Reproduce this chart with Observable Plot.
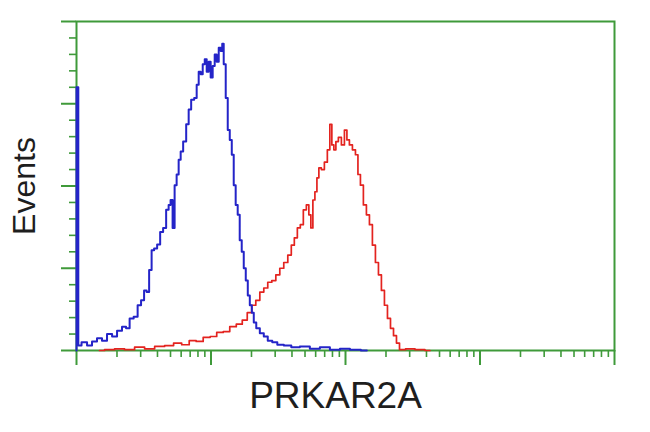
<!DOCTYPE html>
<html>
<head>
<meta charset="utf-8">
<script src="https://cdn.jsdelivr.net/npm/d3@7"></script>
<script src="https://cdn.jsdelivr.net/npm/@observablehq/plot@0.6"></script>
<style>
  html, body { margin: 0; padding: 0; background: #fff; }
  #chart svg { display: block; }
</style>
</head>
<body>
<div id="chart"></div>
<script>
// Blue (control) histogram: log10 intensity and event counts
const blueLog = [0, 0, 0.012, 0.015, 0.06, 0.097, 0.134, 0.171, 0.208, 0.246, 0.283, 0.32, 0.357, 0.38, 0.41, 0.44, 0.469, 0.491, 0.514, 0.529, 0.551, 0.566, 0.588, 0.611, 0.633, 0.655, 0.678, 0.692, 0.707, 0.722, 0.737, 0.752, 0.767, 0.782, 0.804, 0.827, 0.841, 0.864, 0.886, 0.901, 0.916, 0.931, 0.946, 0.961, 0.975, 0.99, 1.005, 1.02, 1.035, 1.05, 1.065, 1.08, 1.087, 1.102, 1.117, 1.132, 1.147, 1.162, 1.176, 1.191, 1.206, 1.221, 1.236, 1.251, 1.266, 1.281, 1.296, 1.311, 1.325, 1.348, 1.378, 1.407, 1.437, 1.474, 1.512, 1.571, 1.623, 1.698, 1.772, 1.847, 1.921, 1.996, 2.07, 2.159];
const blueCount = [0, 320, 320, 6, 10, 6, 11, 15, 12, 20, 17, 24, 29, 27, 39, 41, 55, 61, 73, 71, 98, 122, 124, 129, 144, 149, 171, 177, 183, 149, 201, 214, 232, 242, 254, 275, 293, 305, 307, 323, 339, 336, 348, 354, 339, 351, 332, 346, 360, 351, 368, 364, 373, 348, 307, 268, 256, 238, 201, 177, 165, 134, 120, 100, 85, 67, 55, 46, 34, 27, 21, 17, 12, 10, 7, 6, 4, 5, 2, 4, 1, 2, 1, 0];

// Red (PRKAR2A) histogram
const redLog = [0.171, 0.246, 0.32, 0.395, 0.469, 0.544, 0.618, 0.692, 0.752, 0.812, 0.864, 0.916, 0.968, 1.02, 1.065, 1.117, 1.162, 1.214, 1.251, 1.288, 1.318, 1.348, 1.378, 1.407, 1.437, 1.467, 1.497, 1.526, 1.556, 1.586, 1.608, 1.631, 1.653, 1.675, 1.698, 1.72, 1.735, 1.75, 1.765, 1.78, 1.795, 1.809, 1.832, 1.854, 1.876, 1.891, 1.906, 1.921, 1.936, 1.958, 1.981, 2.003, 2.018, 2.04, 2.063, 2.085, 2.1, 2.122, 2.144, 2.167, 2.189, 2.211, 2.234, 2.256, 2.278, 2.301, 2.323, 2.346, 2.368, 2.39, 2.413, 2.48, 2.554, 2.628];
const redCount = [0, 1, 2, 1, 4, 2, 5, 6, 9, 7, 12, 11, 16, 17, 22, 23, 29, 32, 37, 46, 55, 61, 71, 76, 83, 85, 92, 100, 107, 116, 128, 137, 149, 153, 171, 177, 165, 149, 183, 193, 210, 222, 220, 229, 244, 275, 250, 244, 254, 259, 250, 268, 256, 250, 244, 238, 214, 201, 177, 165, 153, 128, 107, 92, 73, 55, 39, 27, 18, 9, 1, 2, 1, 0];

// Axis ticks
const xMajorTicks = [1, 10, 100, 1000, 10000];
const xMinorTicks = [2, 3, 4, 5, 6, 7, 8, 9, 20, 30, 40, 50, 60, 70, 80, 90, 200, 300, 400, 500, 600, 700, 800, 900, 2000, 3000, 4000, 5000, 6000, 7000, 8000, 9000];
const yMajorTicks = [0, 100, 200, 300, 400];
const yMinorTicks = [20, 40, 60, 80, 120, 140, 160, 180, 220, 240, 260, 280, 320, 340, 360, 380];
const xLabel = "PRKAR2A";
const yLabel = "Events";

const green = "#3f9a3a";
const blueData = blueLog.map((d, i) => ({x: Math.pow(10, d), y: blueCount[i]}));
const redData = redLog.map((d, i) => ({x: Math.pow(10, d), y: redCount[i]}));
const noText = () => "";

const chart = Plot.plot({
  width: 650,
  height: 432,
  marginLeft: 76,
  marginRight: 36,
  marginTop: 21,
  marginBottom: 82,
  style: {fontFamily: "'Liberation Sans', Arial, sans-serif", background: "#fff", color: "#1e1e1e"},
  x: {type: "log", domain: [1, 10000]},
  y: {domain: [0, 400]},
  marks: [
    Plot.axisX({ticks: xMinorTicks, tickSize: 7, tickFormat: noText, stroke: green, strokeWidth: 1.6, label: null}),
    Plot.axisX({ticks: xMajorTicks, tickSize: 15, tickFormat: noText, stroke: green, strokeWidth: 2, label: null}),
    Plot.axisY({ticks: yMinorTicks, tickSize: 7, tickFormat: noText, stroke: green, strokeWidth: 1.6, label: null}),
    Plot.axisY({ticks: yMajorTicks, tickSize: 15, tickFormat: noText, stroke: green, strokeWidth: 2, label: null}),
    Plot.text([xLabel], {text: d => d, frameAnchor: "bottom", dx: -10, dy: 57, fontSize: 37, fill: "#1e1e1e"}),
    Plot.axisY({ticks: [], label: yLabel, labelAnchor: "center", labelArrow: "none", labelOffset: 64, fontSize: 32, color: "#1e1e1e"}),
    Plot.frame({stroke: green, strokeWidth: 2}),
    Plot.line(redData, {x: "x", y: "y", curve: "step", stroke: "#e3231f", strokeWidth: 1.7}),
    Plot.line(blueData, {x: "x", y: "y", curve: "step", stroke: "#2424c8", strokeWidth: 2})
  ]
});
document.getElementById("chart").appendChild(chart);
</script>
</body>
</html>
